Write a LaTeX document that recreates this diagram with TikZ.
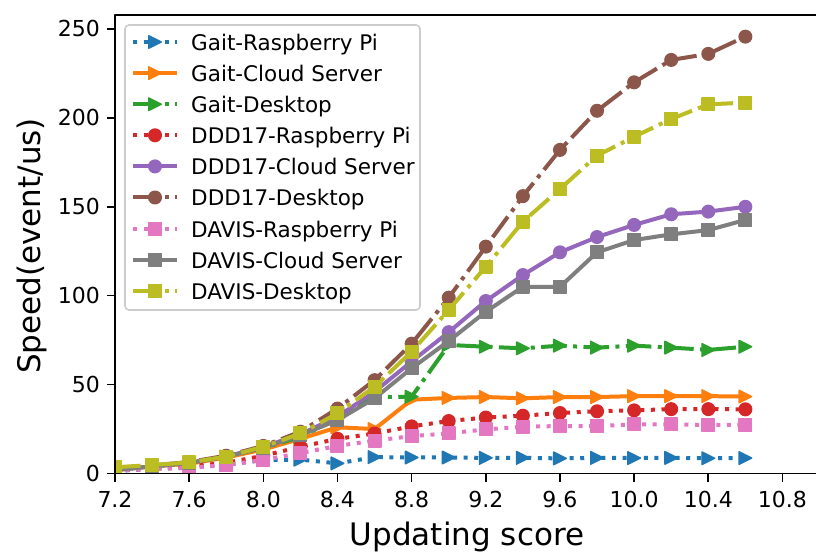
\documentclass[tikz,border=0pt]{standalone}
\usepackage{fontspec}
\setmainfont{DejaVu Sans}
\usetikzlibrary{positioning, plotmarks}

\definecolor{tabblue}{HTML}{1F77B4}
\definecolor{taborange}{HTML}{FF7F0E}
\definecolor{tabgreen}{HTML}{2CA02C}
\definecolor{tabred}{HTML}{D62728}
\definecolor{tabpurple}{HTML}{9467BD}
\definecolor{tabbrown}{HTML}{8C564B}
\definecolor{tabpink}{HTML}{E377C2}
\definecolor{tabgray}{HTML}{7F7F7F}
\definecolor{tabolive}{HTML}{BCBD22}
\definecolor{legframe}{HTML}{CCCCCC}

% right pointing triangle as in matplotlib '>'
\pgfdeclareplotmark{rtri}{%
  \pgfpathmoveto{\pgfqpoint{\pgfplotmarksize}{0pt}}%
  \pgfpathlineto{\pgfqpoint{-\pgfplotmarksize}{\pgfplotmarksize}}%
  \pgfpathlineto{\pgfqpoint{-\pgfplotmarksize}{-\pgfplotmarksize}}%
  \pgfpathclose
  \pgfusepathqfillstroke}

\begin{document}
\begin{tikzpicture}
    [x=1pt, y=1pt, line join=round,
    spine/.style={line width=1.6pt, black},
    ticklabel/.style={font=\fontsize{22}{26}\selectfont, inner sep=0pt},
    axislabel/.style={font=\fontsize{31}{36}\selectfont, inner sep=0pt},
    legendtext/.style={font=\fontsize{21.5}{25}\selectfont, inner sep=0pt, anchor=base west},
    datacurve/.style={line width=4pt, color=#1,
        mark options={solid, fill=#1, draw=#1, line width=1.4pt}},
    dotline/.style={dash pattern=on 4pt off 6.6pt},
    dashdotline/.style={dash pattern=on 25.6pt off 6.4pt on 4pt off 6.4pt},
    trimark/.style={mark=rtri, mark size=6.3pt},
    dotmark/.style={mark=*, mark size=6.3pt},
    boxmark/.style={mark=square*, mark size=6.3pt},
    gaitpi/.style={datacurve=tabblue, dotline, trimark},
    gaitcloud/.style={datacurve=taborange, trimark},
    gaitdesk/.style={datacurve=tabgreen, dashdotline, trimark},
    dddpi/.style={datacurve=tabred, dotline, dotmark},
    dddcloud/.style={datacurve=tabpurple, dotmark},
    ddddesk/.style={datacurve=tabbrown, dashdotline, dotmark},
    davispi/.style={datacurve=tabpink, dotline, boxmark},
    daviscloud/.style={datacurve=tabgray, boxmark},
    davisdesk/.style={datacurve=tabolive, dashdotline, boxmark}]

    \useasboundingbox (0,0) rectangle (816,552);
    \fill[white] (0,0) rectangle (816,552);

    % data, in axis units
    \begin{scope}[shift={(-1219.88,78.5)}, x=185.4pt, y=1.778pt]
        \clip (7.2,0) rectangle (11.0,258);
        \draw[gaitpi] plot coordinates {(7.2,1.5) (7.4,2.5) (7.6,3.5) (7.8,5) (8.0,7.5) (8.2,7.8)
            (8.4,5.7) (8.6,9.2) (8.8,9) (9.0,9) (9.2,8.8) (9.4,8.8) (9.6,8.5) (9.8,8.8)
            (10.0,8.7) (10.2,8.8) (10.4,8.6) (10.6,8.7)};
        \draw[gaitcloud] plot coordinates {(7.2,2) (7.4,4) (7.6,5.5) (7.8,9) (8.0,13.5) (8.2,19.5)
            (8.4,26) (8.6,25) (8.8,41.5) (9.0,42.5) (9.2,43) (9.4,42.3) (9.6,43) (9.8,43)
            (10.0,43.5) (10.2,43.5) (10.4,43.5) (10.6,43.3)};
        \draw[gaitdesk] plot coordinates {(7.2,2) (7.4,4) (7.6,6) (7.8,9.5) (8.0,14.5) (8.2,20.5)
            (8.4,31) (8.6,43) (8.8,43.2) (9.0,72.3) (9.2,71.3) (9.4,70.4) (9.6,71.9) (9.8,70.8)
            (10.0,71.9) (10.2,70.8) (10.4,69.5) (10.6,71.3)};
        \draw[dddpi] plot coordinates {(7.2,1.5) (7.4,3) (7.6,4) (7.8,6) (8.0,10) (8.2,15)
            (8.4,19.5) (8.6,22.5) (8.8,26.5) (9.0,29.5) (9.2,31.5) (9.4,32.5) (9.6,34) (9.8,35)
            (10.0,35.5) (10.2,36.2) (10.4,36.2) (10.6,36.1)};
        \draw[dddcloud] plot coordinates {(7.2,2) (7.4,4) (7.6,6) (7.8,9.5) (8.0,15) (8.2,22)
            (8.4,32) (8.6,46) (8.8,63) (9.0,79.5) (9.2,97) (9.4,111.6) (9.6,124.4) (9.8,133)
            (10.0,139.8) (10.2,145.8) (10.4,147.3) (10.6,150)};
        \draw[ddddesk] plot coordinates {(7.2,2.5) (7.4,4.5) (7.6,6.5) (7.8,10) (8.0,15.5) (8.2,23.5)
            (8.4,36.5) (8.6,52.5) (8.8,73) (9.0,98.9) (9.2,127.6) (9.4,156) (9.6,182) (9.8,204)
            (10.0,220) (10.2,232.6) (10.4,236) (10.6,245.7)};
        \draw[davispi] plot coordinates {(7.2,1.5) (7.4,2.5) (7.6,3.1) (7.8,4.8) (8.0,7.6) (8.2,11.5)
            (8.4,15.5) (8.6,18.5) (8.8,21) (9.0,22.6) (9.2,24.8) (9.4,26.3) (9.6,26.7) (9.8,26.7)
            (10.0,27.6) (10.2,27.6) (10.4,27.3) (10.6,27.3)};
        \draw[daviscloud] plot coordinates {(7.2,2) (7.4,4) (7.6,6) (7.8,9.5) (8.0,14.5) (8.2,21.5)
            (8.4,30) (8.6,42.3) (8.8,59.2) (9.0,74.5) (9.2,91) (9.4,105) (9.6,105) (9.8,124.4)
            (10.0,131.3) (10.2,134.5) (10.4,136.9) (10.6,142.6)};
        \draw[davisdesk] plot coordinates {(7.2,3.5) (7.4,4.8) (7.6,6.2) (7.8,9.5) (8.0,15) (8.2,22.5)
            (8.4,33.8) (8.6,48.8) (8.8,68.5) (9.0,92) (9.2,116.3) (9.4,141.6) (9.6,160) (9.8,178.8)
            (10.0,189.4) (10.2,199.4) (10.4,207.6) (10.6,208.6)};
    \end{scope}

    % axes
    \coordinate (origin) at (115,78.5);
    \coordinate (topleft) at (115,537);
    \draw[spine] (816,537) -- (topleft) -- (origin) -- (816,78.5);

    \begin{scope}[shift={(-1219.88,78.5)}, x=185.4pt, y=1.778pt]
        \foreach \t [count=\k] in {7.2,7.6,8.0,8.4,8.8,9.2,9.6,10.0,10.4,10.8} {
            \draw[spine] (\t,0) -- ++(0pt,-8pt);
            \path (\t,0) ++(0pt,-33.5pt) node[ticklabel, anchor=base] (xtick\k) {\t};
        }
        \foreach \v [count=\k] in {0,50,100,150,200,250} {
            \draw[spine] (7.2,\v) -- ++(-8pt,0pt);
            \path (7.2,\v) ++(-15pt,-8pt) node[ticklabel, anchor=base east] (ytick\k) {\v};
        }
    \end{scope}

    \node[axislabel, anchor=base] (xlabel) at (467,7) {Updating score};
    \node[axislabel, anchor=base, rotate=90] (ylabel) at (40,306) {Speed(event/us)};

    % legend
    \draw[legframe, line width=1.6pt, rounded corners=4pt, fill=white, fill opacity=0.8]
        (125,527) rectangle (420,242);
    \foreach \sty/\txt [count=\i from 0] in {gaitpi/Gait-Raspberry Pi, gaitcloud/Gait-Cloud Server,
            gaitdesk/Gait-Desktop, dddpi/DDD17-Raspberry Pi, dddcloud/DDD17-Cloud Server,
            ddddesk/DDD17-Desktop, davispi/DAVIS-Raspberry Pi, daviscloud/DAVIS-Cloud Server,
            davisdesk/DAVIS-Desktop} {
        \draw[\sty, mark=none] (133,510-31.1*\i) -- (177,510-31.1*\i);
        \path[\sty] plot coordinates {(155,510-31.1*\i)};
        \node[legendtext] (legend\i) at (191,501.5-31.1*\i) {\txt};
    }

\end{tikzpicture}
\end{document}
